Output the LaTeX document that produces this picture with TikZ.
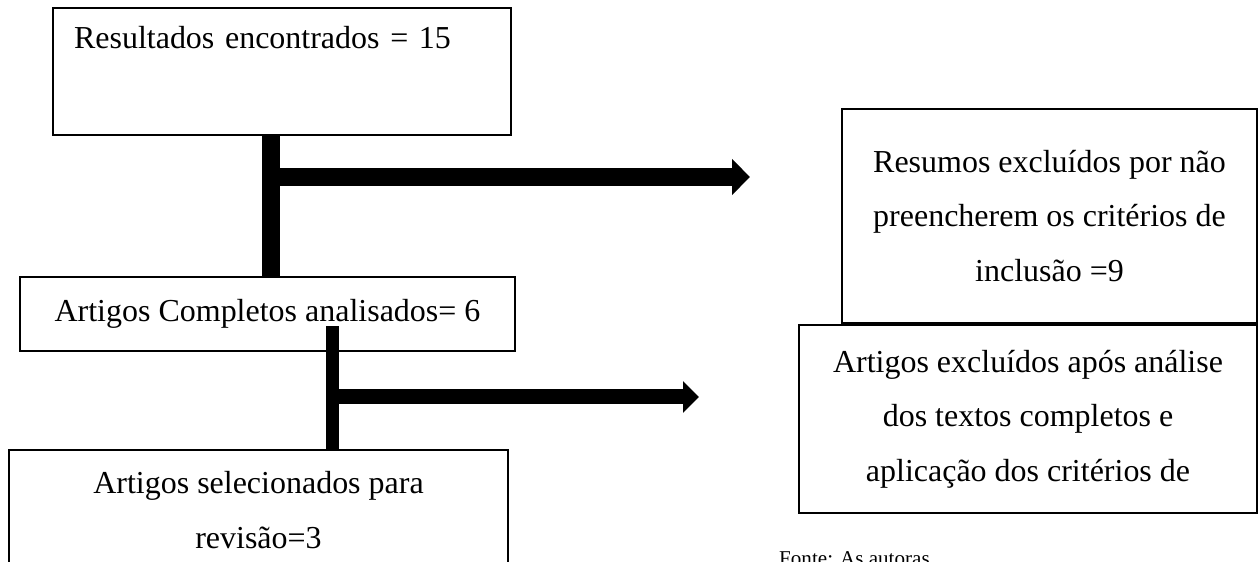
\documentclass[tikz,border=0pt]{standalone}
\usepackage{fontspec}
\setmainfont{Liberation Serif}
\usetikzlibrary{arrows.meta}

\tikzset{
  caixa/.style={draw, line width=1.2pt, align=center, inner sep=0pt,
    font=\fontsize{18.2pt}{31pt}\selectfont},
  barra/.style={line width=0.36cm},
  barrafina/.style={line width=0.26cm},
  seta/.style={line width=0.36cm, -{Triangle[length=0.36cm 0 0, width=0.7cm 0 0]}},
  setafina/.style={line width=0.3cm, -{Triangle[length=0.32cm 0 0, width=0.62cm 0 0]}},
}

\begin{document}
\begin{tikzpicture}
        \useasboundingbox (0,0) rectangle (25.16,-11.24);
        \clip (0,0) rectangle (25.16,-11.24);

        \node[caixa, align=left, anchor=north west, text width=8.32cm, inner xsep=0.42cm,
              text height=0.8cm, text depth=1.74cm] (res) at (1.04,-0.14) {Resultados encontrados = 15};
        \node[caixa, minimum width=9.9cm, minimum height=1.48cm] (comp) at (5.35,-6.28) {Artigos Completos analisados= 6};
        \node[caixa, anchor=north, minimum width=9.98cm, minimum height=2.4cm] (sel) at (5.17,-8.98) {Artigos selecionados para\\revisão=3};
        \node[caixa, minimum width=8.3cm, minimum height=4.28cm] (resumos) at (20.99,-4.32) {Resumos excluídos por não\\preencherem os critérios de\\inclusão =9};
        \node[caixa, minimum width=9.16cm, minimum height=3.76cm] (excl) at (20.56,-8.38) {Artigos excluídos após análise\\dos textos completos e\\aplicação dos critérios de};
        \node[anchor=base west, font=\fontsize{12pt}{14pt}\selectfont] (fonte) at (15.46,-11.32) {Fonte: As autoras};

        \coordinate (fim1) at (15.0,-3.54);
        \coordinate (fim2) at (13.98,-7.94);

        \draw[barra] ([xshift=-0.22cm]res.south) -- ([xshift=-0.22cm]res.south |- comp.north);
        \draw[seta] ([xshift=-0.22cm]res.south |- fim1) -- (fim1);

        \draw[barrafina] ([xshift=1.29cm, yshift=0.52cm]comp.south) -- ([xshift=1.29cm]comp.south |- sel.north);
        \draw[setafina] ([xshift=1.29cm]comp.south |- fim2) -- (fim2);
    \end{tikzpicture}
\end{document}
